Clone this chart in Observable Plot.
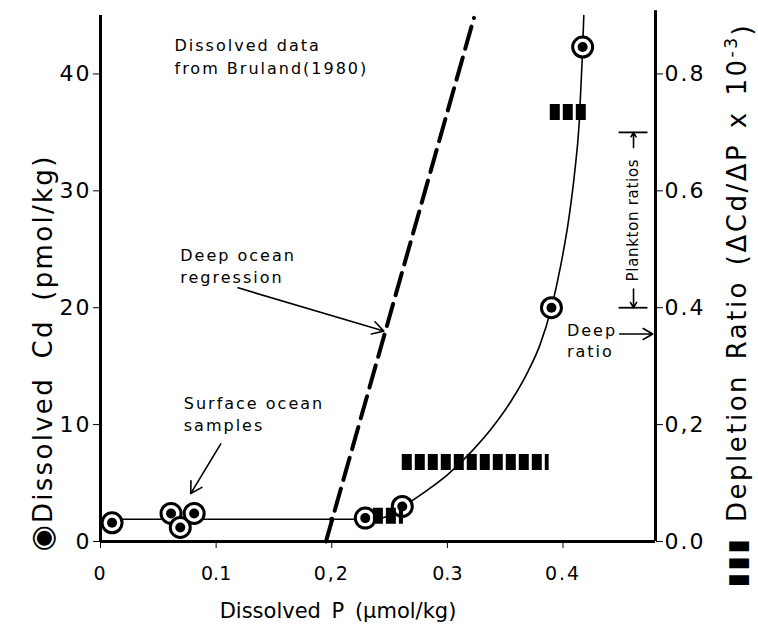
<!DOCTYPE html>
<html><head><meta charset="utf-8">
<script src="https://cdn.jsdelivr.net/npm/d3@7"></script>
<script src="https://cdn.jsdelivr.net/npm/@observablehq/plot@0.6"></script>
<style>
body{margin:0;background:#fff}
</style>
</head><body><div id="chart"></div>
<script>
// Dissolved samples (circles): P (µmol/kg), Cd (pmol/kg)
const sampleP  = [0.010, 0.061, 0.069, 0.081, 0.229, 0.261, 0.390, 0.417];
const sampleCd = [1.6, 2.4, 1.2, 2.4, 2.0, 3.0, 20.0, 42.3];
// Hand-drawn fit through the samples
const fitP  = [0.000, 0.235, 0.250, 0.262, 0.280, 0.300, 0.320, 0.340, 0.355, 0.370, 0.380, 0.390, 0.398, 0.405, 0.410, 0.414, 0.4165, 0.418];
const fitCd = [1.9,   1.9,   2.2,   3.0,   4.2,   5.7,   7.6,   9.9,   12.0,  14.6,  16.8,  20.0,  23.6,  27.6,  31.5,  35.8,  41.0,   45.0];
// Deep ocean regression (dashed)
const regP  = [0.195, 0.323];
const regCd = [0.0, 44.8];
// Depletion ratio segments (black squares), ratio in units of 10^-3
const depP1    = [0.236, 0.261, 0.389];
const depP2    = [0.262, 0.388, 0.421];
const depRatio = [0.044, 0.136, 0.735];
// Reference ratios on the right axis
const planktonRange = [0.40, 0.70];
const deepRatio = 0.355;
// Axes
const pTicks = [0, 0.1, 0.2, 0.3, 0.4];
const pLabels = ["0", "0.1", "0,2", "0.3", "0.4"];
const cdTicks = [0, 10, 20, 30, 40];
const cdLabels = ["0", "10", "20", "30", "40"];
const ratioTicks = [0, 0.2, 0.4, 0.6, 0.8];
const ratioLabels = ["0.0", "0,2", "0.4", "0.6", "0.8"];
const CD_PER_RATIO = 50; // right axis: ratio 0.8 <-> 40 pmol/kg
// Annotations (text lines anchored at baseline)
const annotText = ["Dissolved data", "from Bruland(1980)", "Deep ocean", "regression", "Surface ocean", "samples", "Deep", "ratio"];
const annotP    = [0.064, 0.064, 0.069, 0.069, 0.072, 0.072, 0.4034, 0.4034];
const annotCd   = [42.0, 40.0, 23.96, 22.1, 11.34, 9.46, 17.56, 15.77];
// Annotation arrows
const arrowP1  = [0.119, 0.104, 0.449];
const arrowCd1 = [21.7, 8.35, deepRatio * CD_PER_RATIO];
const arrowP2  = [0.245, 0.078, 0.4776];
const arrowCd2 = [18.0, 4.1, deepRatio * CD_PER_RATIO];

const samples = sampleP.map((p, i) => ({p, cd: sampleCd[i]}));
const fit = fitP.map((p, i) => ({p, cd: fitCd[i]}));
const reg = regP.map((p, i) => ({p, cd: regCd[i]}));
const dep = depRatio.map((r, i) => ({p1: depP1[i], p2: depP2[i], cd: r * CD_PER_RATIO}));
const annots = annotText.map((t, i) => ({t, p: annotP[i], cd: annotCd[i]}));
const arrows = arrowP1.map((p, i) => ({p1: p, cd1: arrowCd1[i], p2: arrowP2[i], cd2: arrowCd2[i]}));
const pMap = new Map(pTicks.map((d, i) => [d, pLabels[i]]));
const cdMap = new Map(cdTicks.map((d, i) => [d, cdLabels[i]]));
const rMap = new Map(ratioTicks.map((d, i) => [d * CD_PER_RATIO, ratioLabels[i]]));
const plankP = 0.461, plankHalf = 0.0125;
const brackets = planktonRange.map(r => ({p1: plankP - plankHalf, p2: plankP + plankHalf, cd: r * CD_PER_RATIO}));
const plankArrows = [
  {p: plankP, cd1: 0.432 * CD_PER_RATIO, cd2: planktonRange[0] * CD_PER_RATIO},
  {p: plankP, cd1: 0.674 * CD_PER_RATIO, cd2: planktonRange[1] * CD_PER_RATIO}
];

const chart = Plot.plot({
  width: 758, height: 628,
  marginLeft: 100, marginRight: 103, marginTop: 15, marginBottom: 87,
  x: {domain: [0, 0.48]},
  y: {domain: [0, 45]},
  style: {fontFamily: "DejaVu Sans", background: "white", color: "black"},
  marks: [
    Plot.line(fit, {x: "p", y: "cd", stroke: "black", strokeWidth: 1.6, curve: "monotone-x"}),
    Plot.line(reg, {x: "p", y: "cd", stroke: "black", strokeWidth: 4, strokeDasharray: "23,9"}),
    Plot.dot(samples, {x: "p", y: "cd", r: 10, stroke: "black", strokeWidth: 3, fill: "white"}),
    Plot.dot(samples, {x: "p", y: "cd", r: 5, fill: "black"}),
    Plot.ruleY(dep, {x1: "p1", x2: "p2", y: "cd", stroke: "black", strokeWidth: 16, strokeDasharray: "10,3"}),
    // axis lines
    Plot.ruleX([0], {stroke: "black", strokeWidth: 3}),
    Plot.ruleY([0], {stroke: "black", strokeWidth: 3}),
    Plot.ruleX([0.48], {y1: 0, y2: 45.4, stroke: "black", strokeWidth: 3}),
    Plot.axisY({ticks: cdTicks, tickFormat: d => cdMap.get(d), anchor: "left", tickSize: 7, tickPadding: 2, tickWidth: 2.5, fontSize: 22, label: null}),
    Plot.axisY({ticks: ratioTicks.map(r => r * CD_PER_RATIO), tickFormat: d => rMap.get(d), anchor: "right", tickSize: 7, tickPadding: 2, tickWidth: 2.5, fontSize: 22, label: null}),
    Plot.axisX({ticks: pTicks, tickFormat: d => pMap.get(d), anchor: "bottom", tickSize: 7, tickPadding: 18, tickWidth: 2.5, fontSize: 19, label: null}),
    // annotations
    Plot.text(annots, {x: "p", y: "cd", text: "t", textAnchor: "start", lineAnchor: "bottom", fontSize: 16, fill: "black"}),
    Plot.arrow(arrows, {x1: "p1", y1: "cd1", x2: "p2", y2: "cd2", stroke: "black", strokeWidth: 1.6, headLength: 12}),
    Plot.ruleY(brackets, {x1: "p1", x2: "p2", y: "cd", stroke: "black", strokeWidth: 1.8}),
    Plot.arrow(plankArrows, {x1: "p", x2: "p", y1: "cd1", y2: "cd2", stroke: "black", strokeWidth: 1.6, headLength: 9}),
    Plot.text(["Plankton ratios"], {x: plankP, y: (planktonRange[0] + planktonRange[1]) / 2 * CD_PER_RATIO, rotate: -90, fontSize: 15, fill: "black"}),
    Plot.dot([{p: 0.2, cd: 1.9}], {x: "p", y: "cd", r: 2.5, fill: "black"})
  ]
});

const svg = d3.select(chart);
const allText = svg.selectAll("text");
allText.filter(function() { return annotText.includes(this.textContent); }).style("letter-spacing", "2px");
allText.filter(function() { return this.textContent === "Plankton ratios"; }).style("letter-spacing", "0.7px");
allText.filter(function() { return cdLabels.includes(this.textContent) || ratioLabels.includes(this.textContent); })
  .style("letter-spacing", "2px");
// Axis titles
const lt = svg.append("text")
  .attr("transform", "translate(52,353) rotate(-90)")
  .attr("text-anchor", "middle").attr("font-size", 26).attr("font-family", "DejaVu Sans")
  .style("letter-spacing", "2.3px").style("word-spacing", "8px");
lt.append("tspan").attr("font-size", 30).text("◉");
lt.append("tspan").text("Dissolved Cd (pmol/kg)");
const rt = svg.append("text")
  .attr("transform", "translate(746,305) rotate(-90)")
  .attr("text-anchor", "middle").attr("font-size", 26).attr("font-family", "DejaVu Sans")
  .style("letter-spacing", "2.5px").style("word-spacing", "4px");
rt.append("tspan").text("▮▮▮ Depletion Ratio (ΔCd/ΔP x 10");
rt.append("tspan").attr("dy", "-0.55em").attr("font-size", 17).text("-3");
rt.append("tspan").attr("dy", "0.55em").text(")");
svg.append("text")
  .attr("x", 338).attr("y", 618)
  .attr("text-anchor", "middle").attr("font-size", 21).attr("font-family", "DejaVu Sans")
  .style("word-spacing", "4px")
  .text("Dissolved P (µmol/kg)");

document.getElementById("chart").append(chart);
</script>
</body></html>
